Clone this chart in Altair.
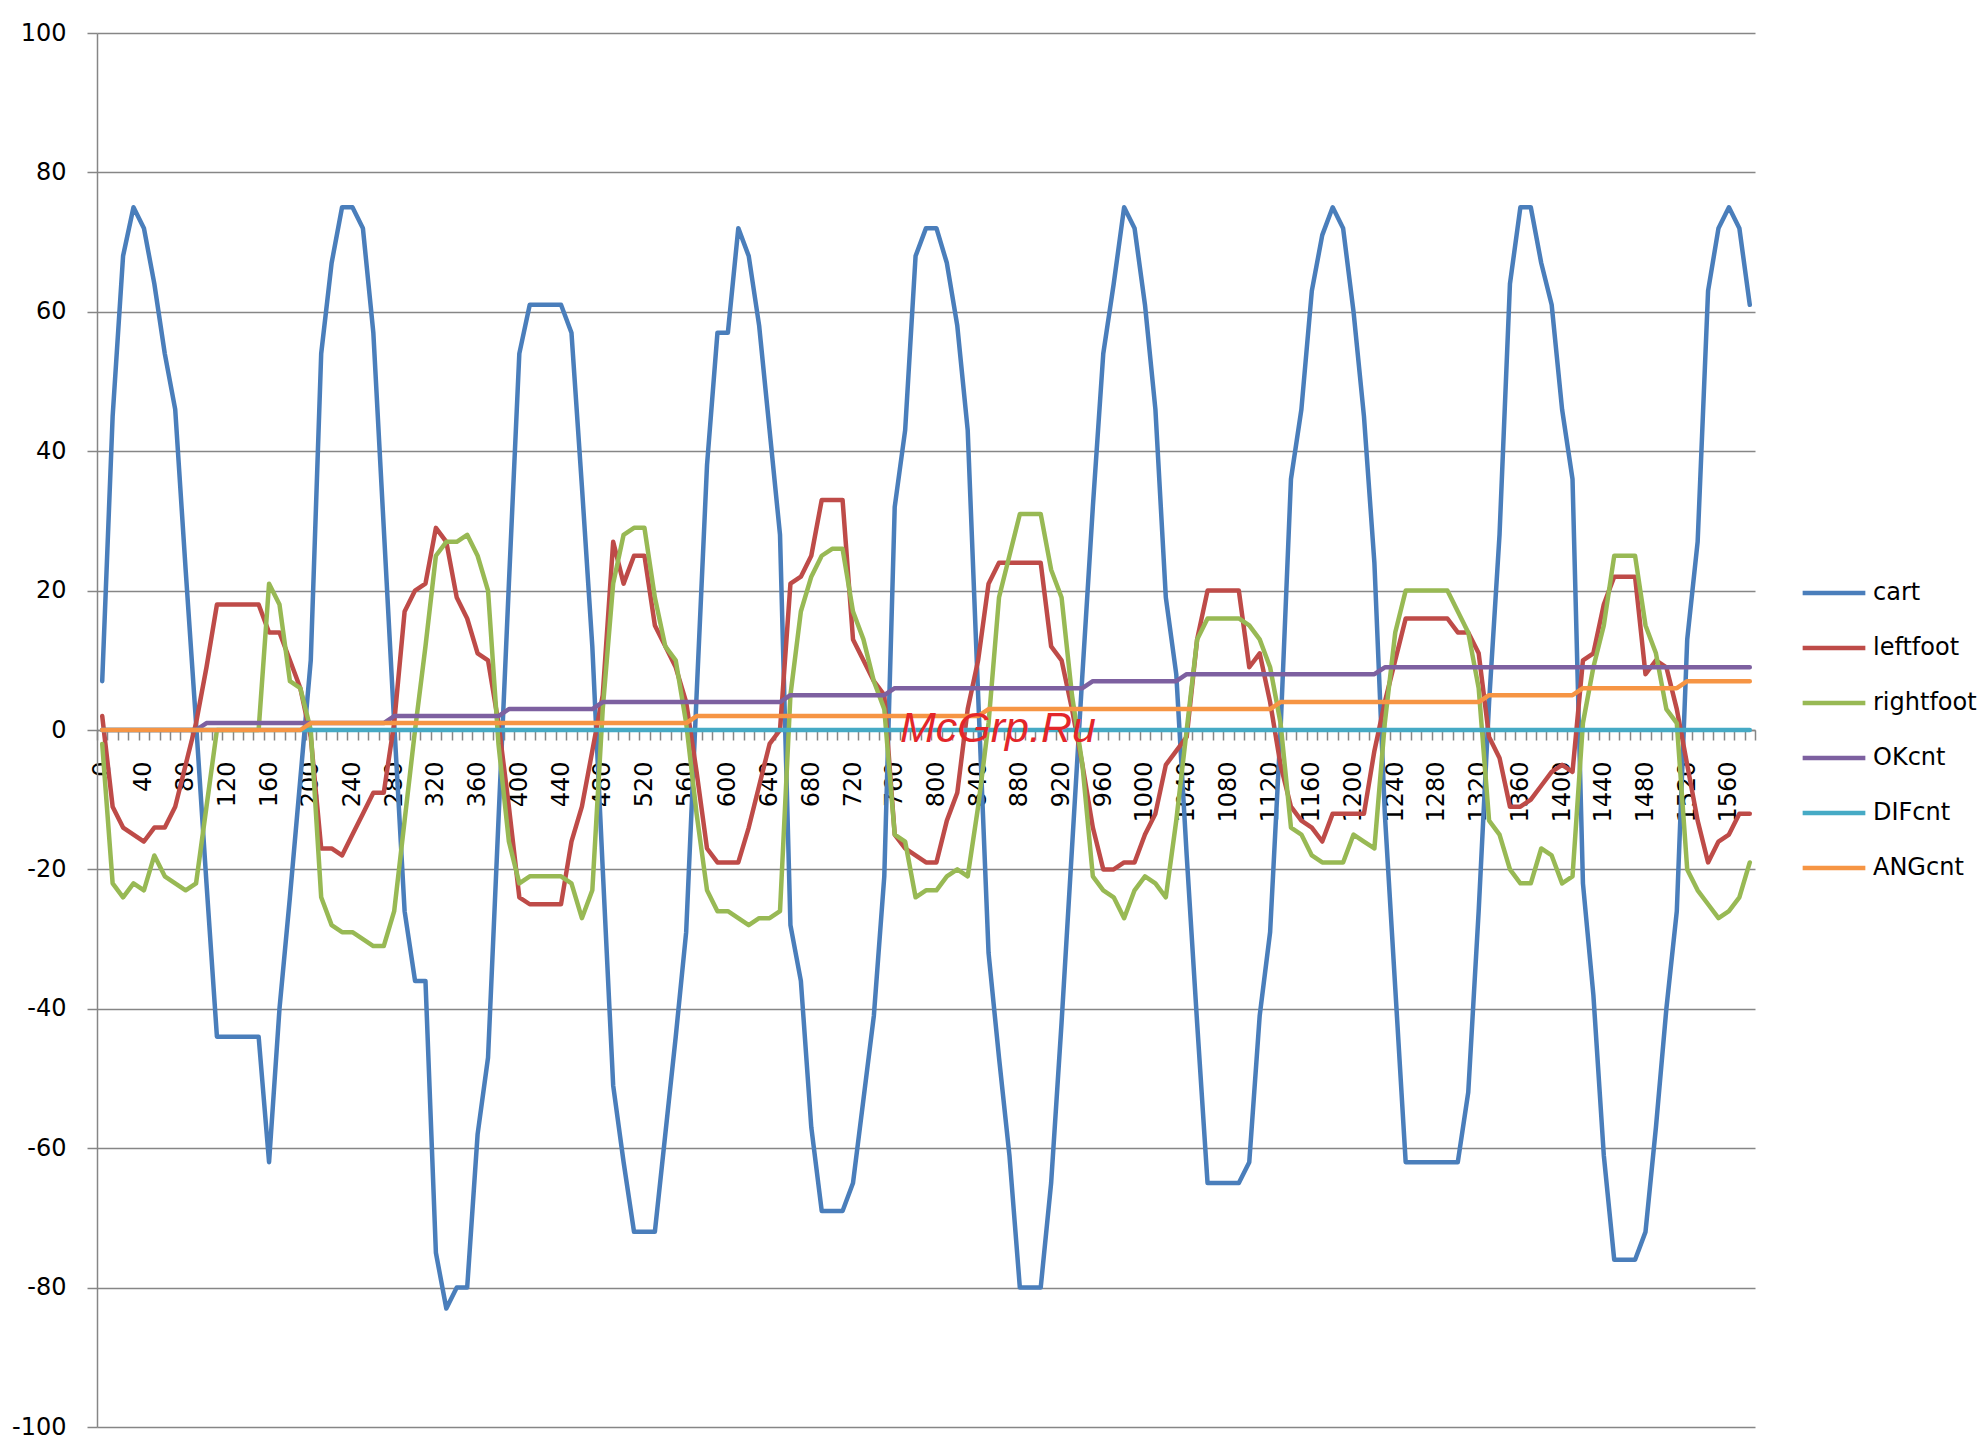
import altair as alt
import pandas as pd

# ---------------- data ----------------
x_categories = list(range(0, 1590, 10))          # 159 category labels 0..1580
x_label_values = list(range(0, 1600, 40))         # shown labels 0..1560
x_tick_values = list(range(-5, 1595, 10))         # tick marks between categories
y_tick_values = list(range(-100, 101, 20))

cart = [
    7, 45, 68, 75, 72, 64, 54, 46, 23, 1,
    -22, -44, -44, -44, -44, -44, -62, -40, -24, -7,
    10, 54, 67, 75, 75, 72, 57, 29, 1, -26,
    -36, -36, -75, -83, -80, -80, -58, -47, -13, 21,
    54, 61, 61, 61, 61, 57, 35, 12, -20, -51,
    -62, -72, -72, -72, -58, -44, -29, 5, 38, 57,
    57, 72, 68, 58, 43, 28, -28, -36, -57, -69,
    -69, -69, -65, -53, -41, -21, 32, 43, 68, 72,
    72, 67, 58, 43, 5, -32, -47, -61, -80, -80,
    -80, -65, -42, -17, 8, 32, 54, 64, 75, 72,
    61, 46, 19, 8, -18, -42, -65, -65, -65, -65,
    -62, -41, -29, 0, 36, 46, 63, 71, 75, 72,
    60, 45, 24, -12, -37, -62, -62, -62, -62, -62,
    -62, -52, -26, 4, 28, 64, 75, 75, 67, 61,
    46, 36, -22, -38, -61, -76, -76, -76, -72, -57,
    -40, -26, 13, 27, 63, 72, 75, 72, 61,
]

leftfoot = [
    2, -11, -14, -15, -16, -14, -14, -11, -5, 1,
    9, 18, 18, 18, 18, 18, 14, 14, 10, 6,
    -1, -17, -17, -18, -15, -12, -9, -9, 1, 17,
    20, 21, 29, 27, 19, 16, 11, 10, 1, -11,
    -24, -25, -25, -25, -25, -16, -11, -3, 5, 27,
    21, 25, 25, 15, 12, 9, 4, -6, -17, -19,
    -19, -19, -14, -8, -2, 0, 21, 22, 25, 33,
    33, 33, 13, 10, 7, 5, -15, -17, -18, -19,
    -19, -13, -9, 3, 10, 21, 24, 24, 24, 24,
    24, 12, 10, 3, -5, -14, -20, -20, -19, -19,
    -15, -12, -5, -3, -1, 13, 20, 20, 20, 20,
    9, 11, 4, -5, -11, -13, -14, -16, -12, -12,
    -12, -12, -3, 4, 10, 16, 16, 16, 16, 16,
    14, 14, 11, -1, -4, -11, -11, -10, -8, -6,
    -5, -6, 10, 11, 18, 22, 22, 22, 8, 10,
    9, 3, -5, -13, -19, -16, -15, -12, -12,
]

rightfoot = [
    -2, -22, -24, -22, -23, -18, -21, -22, -23, -22,
    -11, 0, 0, 0, 0, 0, 21, 18, 7, 6,
    0, -24, -28, -29, -29, -30, -31, -31, -26, -13,
    0, 12, 25, 27, 27, 28, 25, 20, -2, -16,
    -22, -21, -21, -21, -21, -22, -27, -23, 3, 21,
    28, 29, 29, 19, 12, 10, 1, -12, -23, -26,
    -26, -27, -28, -27, -27, -26, 5, 17, 22, 25,
    26, 26, 17, 13, 7, 3, -15, -16, -24, -23,
    -23, -21, -20, -21, -11, 1, 19, 25, 31, 31,
    31, 23, 19, 5, -5, -21, -23, -24, -27, -23,
    -21, -22, -24, -13, 0, 13, 16, 16, 16, 16,
    15, 13, 9, 1, -14, -15, -18, -19, -19, -19,
    -15, -16, -17, 1, 14, 20, 20, 20, 20, 20,
    17, 14, 6, -13, -15, -20, -22, -22, -17, -18,
    -22, -21, 1, 9, 15, 25, 25, 25, 15, 11,
    3, 1, -20, -23, -25, -27, -26, -24, -19,
]

okcnt = [
    0, 0, 0, 0, 0, 0, 0, 0, 0, 0,
    1, 1, 1, 1, 1, 1, 1, 1, 1, 1,
    1, 1, 1, 1, 1, 1, 1, 1, 2, 2,
    2, 2, 2, 2, 2, 2, 2, 2, 2, 3,
    3, 3, 3, 3, 3, 3, 3, 3, 4, 4,
    4, 4, 4, 4, 4, 4, 4, 4, 4, 4,
    4, 4, 4, 4, 4, 4, 5, 5, 5, 5,
    5, 5, 5, 5, 5, 5, 6, 6, 6, 6,
    6, 6, 6, 6, 6, 6, 6, 6, 6, 6,
    6, 6, 6, 6, 6, 7, 7, 7, 7, 7,
    7, 7, 7, 7, 8, 8, 8, 8, 8, 8,
    8, 8, 8, 8, 8, 8, 8, 8, 8, 8,
    8, 8, 8, 9, 9, 9, 9, 9, 9, 9,
    9, 9, 9, 9, 9, 9, 9, 9, 9, 9,
    9, 9, 9, 9, 9, 9, 9, 9, 9, 9,
    9, 9, 9, 9, 9, 9, 9, 9, 9,
]

difcnt = [
    0, 0, 0, 0, 0, 0, 0, 0, 0, 0,
    0, 0, 0, 0, 0, 0, 0, 0, 0, 0,
    0, 0, 0, 0, 0, 0, 0, 0, 0, 0,
    0, 0, 0, 0, 0, 0, 0, 0, 0, 0,
    0, 0, 0, 0, 0, 0, 0, 0, 0, 0,
    0, 0, 0, 0, 0, 0, 0, 0, 0, 0,
    0, 0, 0, 0, 0, 0, 0, 0, 0, 0,
    0, 0, 0, 0, 0, 0, 0, 0, 0, 0,
    0, 0, 0, 0, 0, 0, 0, 0, 0, 0,
    0, 0, 0, 0, 0, 0, 0, 0, 0, 0,
    0, 0, 0, 0, 0, 0, 0, 0, 0, 0,
    0, 0, 0, 0, 0, 0, 0, 0, 0, 0,
    0, 0, 0, 0, 0, 0, 0, 0, 0, 0,
    0, 0, 0, 0, 0, 0, 0, 0, 0, 0,
    0, 0, 0, 0, 0, 0, 0, 0, 0, 0,
    0, 0, 0, 0, 0, 0, 0, 0, 0,
]

angcnt = [
    0, 0, 0, 0, 0, 0, 0, 0, 0, 0,
    0, 0, 0, 0, 0, 0, 0, 0, 0, 0,
    1, 1, 1, 1, 1, 1, 1, 1, 1, 1,
    1, 1, 1, 1, 1, 1, 1, 1, 1, 1,
    1, 1, 1, 1, 1, 1, 1, 1, 1, 1,
    1, 1, 1, 1, 1, 1, 1, 2, 2, 2,
    2, 2, 2, 2, 2, 2, 2, 2, 2, 2,
    2, 2, 2, 2, 2, 2, 2, 2, 2, 2,
    2, 2, 2, 2, 2, 3, 3, 3, 3, 3,
    3, 3, 3, 3, 3, 3, 3, 3, 3, 3,
    3, 3, 3, 3, 3, 3, 3, 3, 3, 3,
    3, 3, 3, 4, 4, 4, 4, 4, 4, 4,
    4, 4, 4, 4, 4, 4, 4, 4, 4, 4,
    4, 4, 4, 5, 5, 5, 5, 5, 5, 5,
    5, 5, 6, 6, 6, 6, 6, 6, 6, 6,
    6, 6, 7, 7, 7, 7, 7, 7, 7,
]

series_names = ["cart", "leftfoot", "rightfoot", "OKcnt", "DIFcnt", "ANGcnt"]
series_colors = ["#4A7EBB", "#BE4B48", "#98B954", "#7D60A0", "#46AAC5", "#F69544"]
series_values = [cart, leftfoot, rightfoot, okcnt, difcnt, angcnt]

watermark_text = ["McGrp.Ru"]
watermark_x = [859]
watermark_y = [-1.7]

for vals in series_values:
    assert len(vals) == len(x_categories), len(vals)

rows = []
for name, vals in zip(series_names, series_values):
    for x, v in zip(x_categories, vals):
        rows.append({"x": x, "value": v, "series": name})
df = pd.DataFrame(rows)
wm_df = pd.DataFrame({"x": watermark_x, "y": watermark_y, "text": watermark_text})

# ---------------- chart ----------------
W, H = 1658, 1394
FONT = "DejaVu Sans"
GRID = "#868686"

x_scale = alt.Scale(domain=[-5, 1585], nice=False, zero=False)
y_scale = alt.Scale(domain=[-100, 100], nice=False, zero=False)
color_scale = alt.Scale(domain=series_names, range=series_colors)

legend = alt.Legend(
    title=None, orient="none", legendX=1703, legendY=526,
    symbolType="stroke", symbolSize=3931, symbolStrokeWidth=4.5,
    labelFontSize=24, labelFont=FONT, labelColor="#000000",
    labelOffset=5, rowPadding=9, padding=0, labelLimit=400,
)

axis_x_labels = alt.Axis(
    orient="bottom", offset=-H / 2, values=x_label_values, labelAngle=270,
    labelFontSize=24, labelFont=FONT, labelColor="#000000", labelPadding=21,
    labelExpr="'' + datum.value",
    tickSize=10, tickOpacity=0, domain=True, domainColor=GRID, domainWidth=1.5,
    grid=False, title=None, labelOverlap=False, labelFlush=False, labelBound=False,
)
axis_x_ticks = alt.Axis(
    orient="bottom", offset=-H / 2, values=x_tick_values, labels=False,
    tickSize=10, tickColor=GRID, tickWidth=1.5, domain=False, grid=False, title=None,
)
axis_y = alt.Axis(
    orient="left", values=y_tick_values, grid=True, gridColor=GRID, gridWidth=1.5,
    domain=True, domainColor=GRID, domainWidth=1.5, tickSize=10, tickColor=GRID,
    tickWidth=1.5, labelFontSize=24, labelFont=FONT, labelColor="#000000",
    labelPadding=21, title=None, labelExpr="'' + datum.value",
    labelFlush=False, labelOverlap=False,
)

layers = []
for k, name in enumerate(series_names):
    if k == 0:
        xa, ya = axis_x_labels, axis_y
    elif k == 1:
        xa, ya = axis_x_ticks, None
    else:
        xa, ya = None, None
    layers.append(
        alt.Chart(df)
        .transform_filter(alt.datum.series == name)
        .mark_line(strokeWidth=4.5, strokeJoin="round", strokeCap="round")
        .encode(
            x=alt.X("x:Q", scale=x_scale, axis=xa),
            y=alt.Y("value:Q", scale=y_scale, axis=ya),
            color=alt.Color("series:N", scale=color_scale, legend=legend),
        )
    )

watermark = (
    alt.Chart(wm_df)
    .mark_text(font="Liberation Sans", fontStyle="italic", fontSize=43,
               color="#E3262A", align="center", baseline="alphabetic")
    .encode(
        x=alt.X("x:Q", scale=x_scale, axis=None),
        y=alt.Y("y:Q", scale=y_scale, axis=None),
        text="text:N",
    )
)

chart = (
    alt.layer(*layers, watermark)
    .resolve_axis(x="independent", y="independent")
    .properties(
        width=W, height=H,
        autosize=alt.AutoSizeParams(type="none"),
        padding={"left": 89, "top": 25, "right": 222, "bottom": 15},
        background="white",
    )
    .configure_view(stroke=None)
)

chart.save("out.html", embed_options={"renderer": "svg", "actions": False})
